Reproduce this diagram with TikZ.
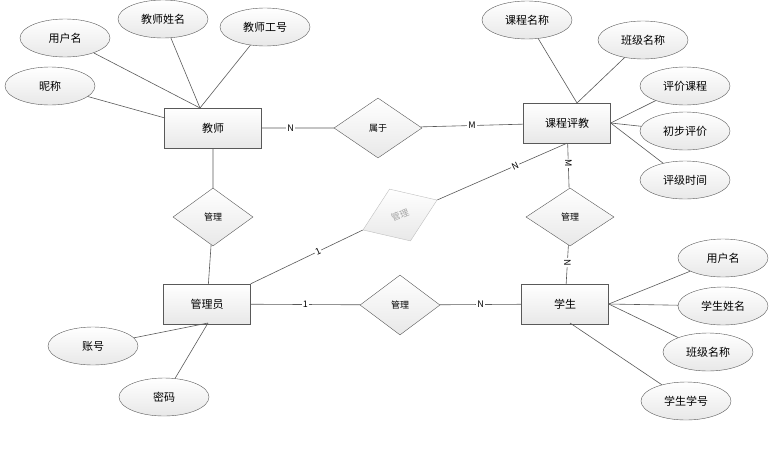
\documentclass[tikz,border=0pt]{standalone}
\usepackage{fontspec}
\setmainfont{Noto Sans CJK SC}
\usetikzlibrary{shapes.geometric}

\begin{document}
\begin{tikzpicture}[x=1pt,y=-1pt,
        entity/.style = {rectangle, draw=black!65, top color=white, bottom color=gray!18, minimum width=87pt, minimum height=40pt, font=\fontsize{11}{13}\selectfont},
        rel/.style = {diamond, draw=black!65, top color=white, bottom color=gray!18, aspect=1.5, inner sep=0pt, minimum width=84pt, minimum height=58pt, font=\fontsize{9}{11}\selectfont},
        attr/.style = {ellipse, draw=black!65, top color=white, bottom color=gray!18, minimum width=90pt, minimum height=38pt, inner sep=0pt, font=\fontsize{11}{13}\selectfont},
        line/.style = {draw=black!65, line width=0.6pt},
        card/.style = {fill=white, inner sep=1pt, font=\fontsize{9}{11}\selectfont}
    ]
        \useasboundingbox (0,0) rectangle (783,450);

        % Entities
        \node [entity, minimum width=97pt] (teacher) at (213,128) {教师};
        \node [entity] (review) at (567,123) {课程评教};
        \node [entity] (admin) at (207,304) {管理员};
        \node [entity] (student) at (565,304) {学生};

        % Relationships
        \node [rel, minimum width=88pt, minimum height=60pt] (belong) at (378,128) {属于};
        \node [rel, minimum width=80pt] (mgrA) at (213,217) {管理};
        \node [rel, minimum width=80pt, minimum height=56pt, rotate=22, draw=gray!50, text=gray!70] (mgrB) at (400,215) {管理};
        \node [rel, minimum width=88pt] (mgrC) at (570,217) {管理};
        \node [rel, minimum width=80pt, minimum height=60pt] (mgrD) at (400,305) {管理};

        % Attributes
        \node [attr] (tuser) at (65,38) {用户名};
        \node [attr] (tname) at (163,19) {教师姓名};
        \node [attr] (tid) at (265,27) {教师工号};
        \node [attr] (nick) at (50,86) {昵称};
        \node [attr] (course) at (527,20) {课程名称};
        \node [attr] (class) at (643,40) {班级名称};
        \node [attr] (rcourse) at (685,86) {评价课程};
        \node [attr] (first) at (685,131) {初步评价};
        \node [attr] (rtime) at (685,180) {评级时间};
        \node [attr] (suser) at (723,258) {用户名};
        \node [attr] (sname) at (723,306) {学生姓名};
        \node [attr] (sclass) at (708,352) {班级名称};
        \node [attr] (sid) at (686,401) {学生学号};
        \node [attr] (acct) at (93,346) {账号};
        \node [attr] (pwd) at (164,397) {密码};

        % Attribute links
        \coordinate (ttop) at (200,108);
        \coordinate (rtop) at (577,103);
        \coordinate (aref) at (208,323);
        \foreach \a in {tuser,tname,tid} \draw [line] (\a) -- (ttop);
        \draw [line] (nick) -- (165,118);
        \foreach \a in {course,class} \draw [line] (\a) -- (rtop);
        \foreach \a in {rcourse,first,rtime} \draw [line] (\a) -- (review.east);
        \foreach \a in {suser,sname,sclass} \draw [line] (\a) -- (student.east);
        \draw [line] (sid) -- (570,323);
        \foreach \a in {acct,pwd} \draw [line] (\a) -- (aref);

        % Relationship links
        \draw [line] (teacher) -- node [card, pos=0.4] {N} (belong) -- node [card, pos=0.5] {M} (review);
        \draw [line] (teacher) -- (mgrA) -- (admin);
        \draw [line] (admin.north east) -- node [card, pos=0.6, rotate=25] {1} (mgrB.west);
        \draw [line] (mgrB.east) -- node [card, pos=0.6, rotate=25] {N} (review.south);
        \draw [line] (review) -- node [card, pos=0.45, rotate=-90] {M} (mgrC) -- node [card, pos=0.45, rotate=-90] {N} (student);
        \draw [line] (admin) -- node [card, pos=0.5] {1} (mgrD) -- node [card, pos=0.5] {N} (student);
    \end{tikzpicture}
\end{document}
